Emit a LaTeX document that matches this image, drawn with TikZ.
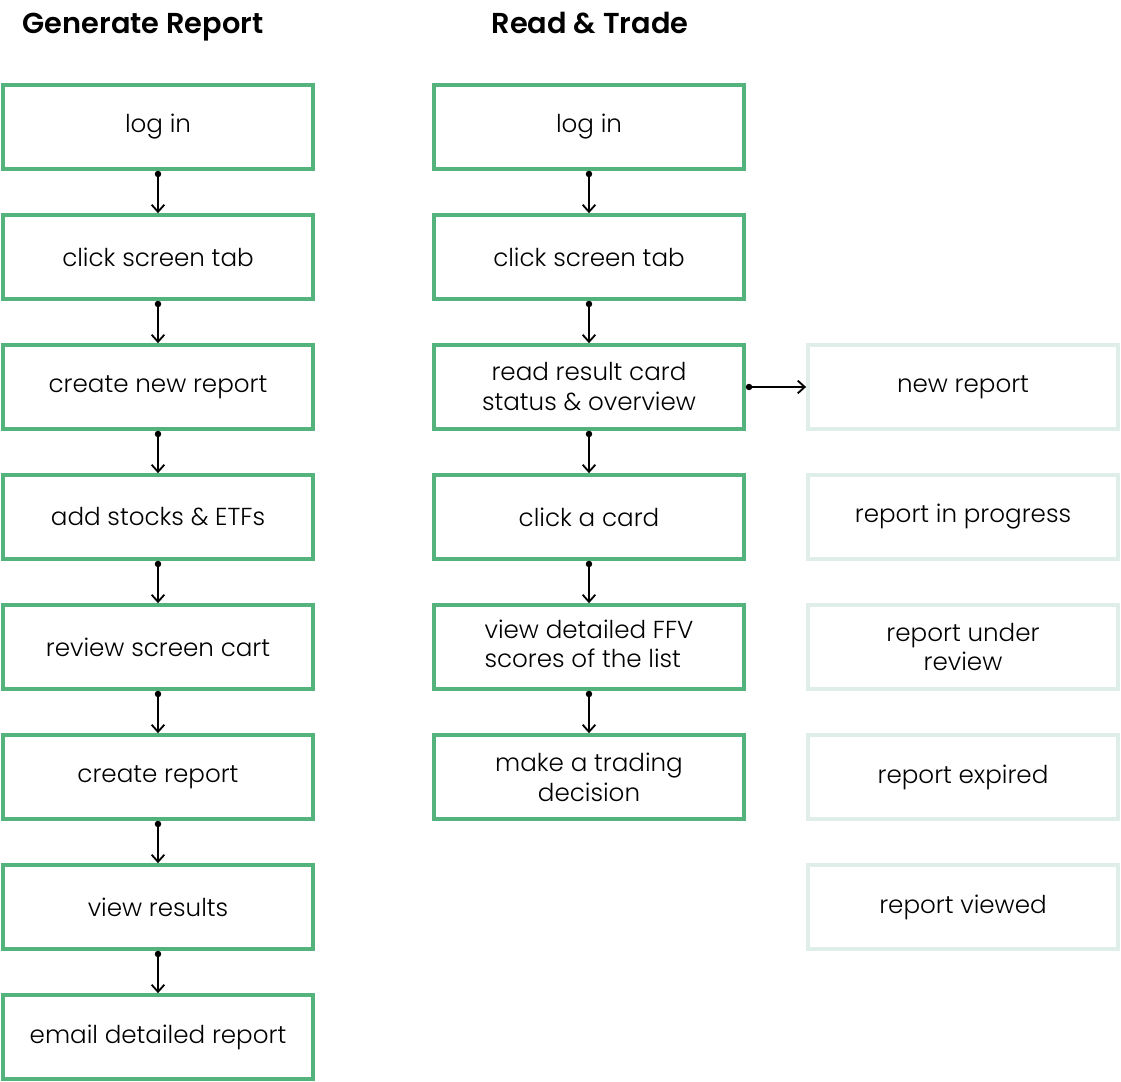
\documentclass[tikz,border=0pt]{standalone}
\usepackage{fontspec}
\setmainfont{Poppins}[UprightFont={* Light}, BoldFont={* SemiBold}]
\usepackage{tikz}
\usetikzlibrary{arrows.meta, positioning}

\definecolor{flowgreen}{RGB}{84,178,124}
\definecolor{statemint}{RGB}{224,238,234}

\tikzset{
    stepbox/.style={draw=flowgreen, line width=2.6pt, minimum width=7.75cm, minimum height=2.1cm,
        align=center, font=\fontsize{17.5}{21.3}\selectfont, inner sep=0pt},
    statebox/.style={stepbox, draw=statemint},
    flowarrow/.style={{Circle[length=4.5pt]}-{Straight Barb[length=5pt, width=9pt]}, line width=1.3pt},
    coltitle/.style={font=\fontsize{20.5}{24}\selectfont\bfseries, anchor=base}
}

\begin{document}
\begin{tikzpicture}[x=0.025cm, y=-0.025cm]
    \useasboundingbox (0,0) rectangle (1121,1082);

    % Titoli
    \node[coltitle] (titleGen) at (143, 34) {Generate Report};
    \node[coltitle] (titleRead) at (590, 34) {Read \& Trade};

    % Colonna sinistra: generare il report
    \node[stepbox] (g1) at (158, 127) {log in};
    \node[stepbox] (g2) at (158, 257) {click screen tab};
    \node[stepbox] (g3) at (158, 387) {create new report};
    \node[stepbox] (g4) at (158, 517) {add stocks \& ETFs};
    \node[stepbox] (g5) at (158, 647) {review screen cart};
    \node[stepbox] (g6) at (158, 777) {create report};
    \node[stepbox] (g7) at (158, 907) {view results};
    \node[stepbox] (g8) at (158, 1037) {email detailed report};

    % Colonna centrale: leggere e operare
    \node[stepbox] (r1) at (589, 127) {log in};
    \node[stepbox] (r2) at (589, 257) {click screen tab};
    \node[stepbox] (r3) at (589, 387) {read result card\\status \& overview};
    \node[stepbox] (r4) at (589, 517) {click a card};
    \node[stepbox] (r5) at (589, 647) {\begin{tabular}{@{}l@{}}view detailed FFV\\scores of the list\end{tabular}};
    \node[stepbox] (r6) at (589, 777) {make a trading\\decision};

    % Stati del report
    \node[statebox] (s1) at (963, 387) {new report};
    \node[statebox] (s2) at (963, 517) {report in progress};
    \node[statebox] (s3) at (963, 647) {report under\\review};
    \node[statebox] (s4) at (963, 777) {report expired};
    \node[statebox] (s5) at (963, 907) {report viewed};

    % Frecce
    \foreach \a/\b in {g1/g2, g2/g3, g3/g4, g4/g5, g5/g6, g6/g7, g7/g8,
                       r1/r2, r2/r3, r3/r4, r4/r5, r5/r6}
        \draw[flowarrow] (\a.south) -- (\b.north);
    \draw[flowarrow] (r3.east) -- (s1.west);
\end{tikzpicture}
\end{document}
